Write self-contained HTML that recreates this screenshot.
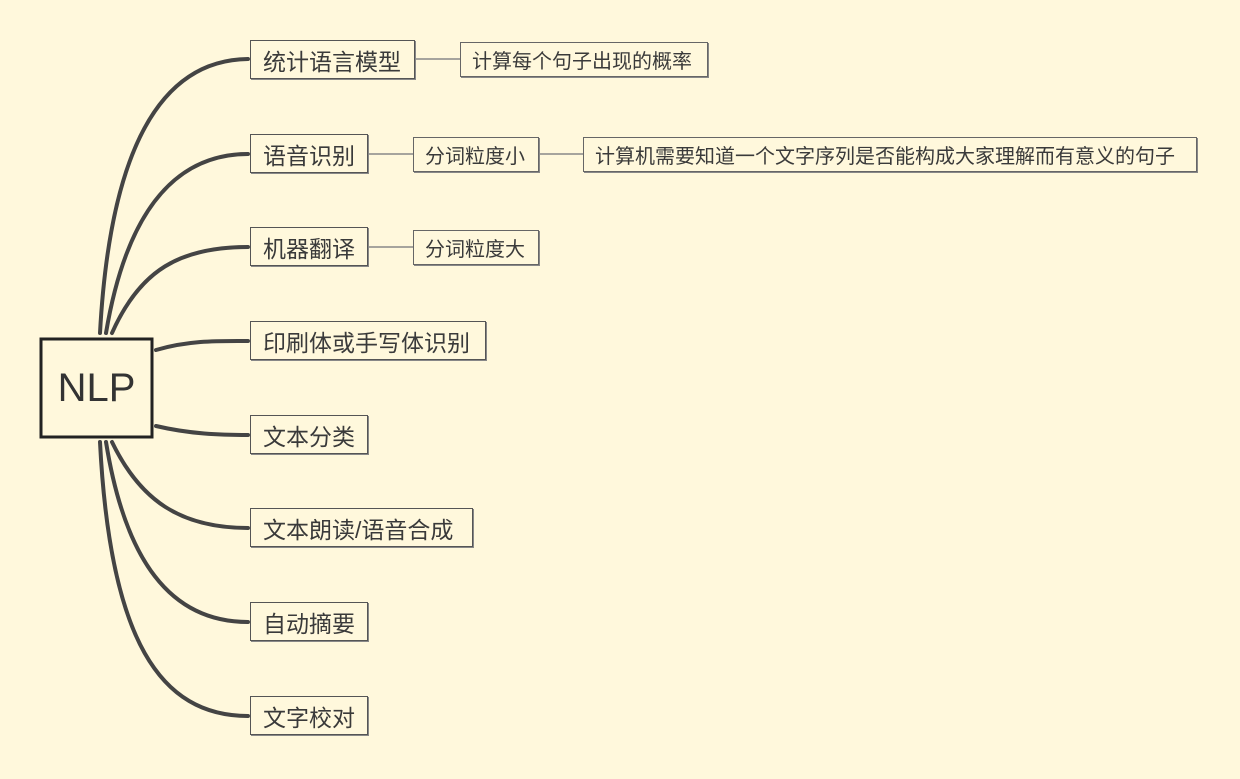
<html><head><style>
body{margin:0;width:1240px;height:779px;background:#fff8dc;font-family:"Liberation Sans","Noto Sans CJK SC",sans-serif;color:#3a3a3a;position:relative;overflow:hidden}
.n{position:absolute;border:1.5px solid #555;box-sizing:border-box;display:flex;align-items:center;padding-left:12px;font-size:23px;box-shadow:1px 1px 0 #888;white-space:nowrap}
.s{font-size:20px;border-color:#666;padding-left:11px}
</style></head><body>
<svg width="1240" height="779" style="position:absolute;left:0;top:0">
<g fill="none" stroke="#444" stroke-width="4" stroke-linecap="round">
<path d="M100 333 C110 150 160 60 248 59"/>
<path d="M106 333 C125 220 170 154 248 154"/>
<path d="M112 333 C140 270 180 247 248 247"/>
<path d="M156 350 C190 340 220 341 248 341"/>
<path d="M156 426 C190 434 220 435 248 435"/>
<path d="M112 442 C140 500 180 528 248 528"/>
<path d="M106 442 C125 560 170 622 248 622"/>
<path d="M100 442 C110 640 160 716 248 716"/>
</g>
<g stroke="#888" stroke-width="1.5" fill="none">
<path d="M416 59 H460"/><path d="M369 154 H413"/><path d="M539 154 H583"/><path d="M369 247 H413"/>
</g>
<rect x="41" y="339" width="111" height="98" fill="none" stroke="#222" stroke-width="3"/>
</svg>
<div style="position:absolute;left:41px;top:339px;width:111px;height:98px;display:flex;align-items:center;justify-content:center;font-size:40px;color:#333">NLP</div>
<div class="n" style="left:250px;top:40px;width:165px;height:39px">统计语言模型</div>
<div class="n" style="left:250px;top:134px;width:118px;height:39px">语音识别</div>
<div class="n" style="left:250px;top:227px;width:118px;height:39px">机器翻译</div>
<div class="n" style="left:250px;top:321px;width:236px;height:39px">印刷体或手写体识别</div>
<div class="n" style="left:250px;top:415px;width:118px;height:39px">文本分类</div>
<div class="n" style="left:250px;top:508px;width:223px;height:39px">文本朗读/语音合成</div>
<div class="n" style="left:250px;top:602px;width:118px;height:39px">自动摘要</div>
<div class="n" style="left:250px;top:696px;width:118px;height:39px">文字校对</div>
<div class="n s" style="left:460px;top:42px;width:248px;height:35px">计算每个句子出现的概率</div>
<div class="n s" style="left:413px;top:137px;width:126px;height:35px">分词粒度小</div>
<div class="n s" style="left:583px;top:137px;width:614px;height:35px">计算机需要知道一个文字序列是否能构成大家理解而有意义的句子</div>
<div class="n s" style="left:413px;top:230px;width:126px;height:35px">分词粒度大</div>
</body></html>
